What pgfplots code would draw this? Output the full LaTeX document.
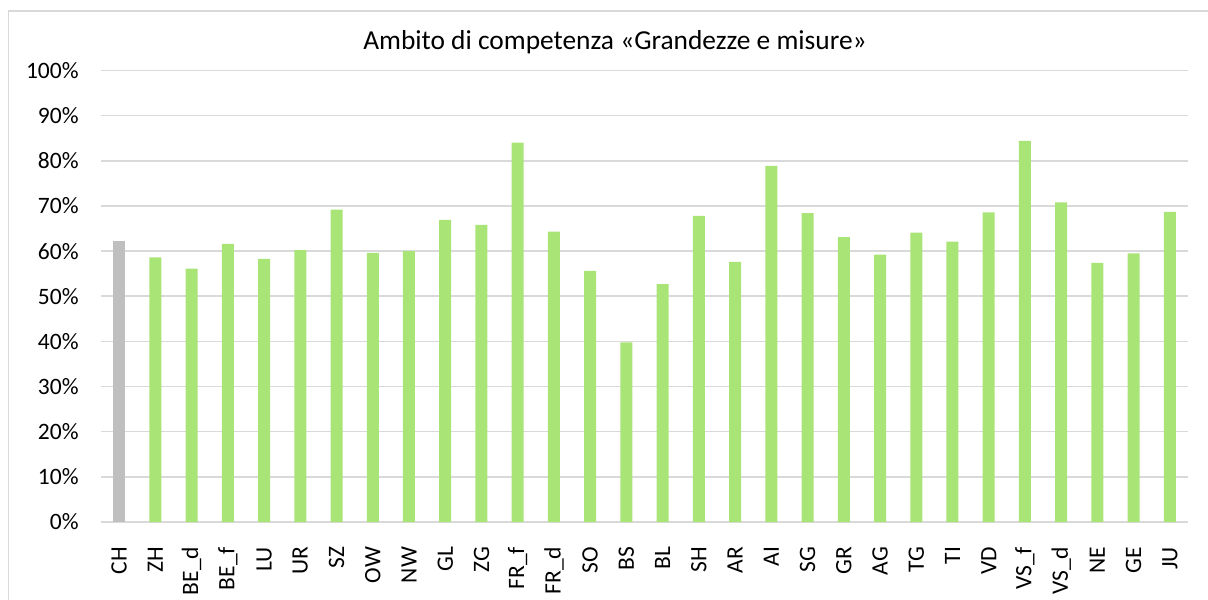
\documentclass[border=0pt]{standalone}
\usepackage{fontspec}
\setmainfont{Carlito}
\usepackage{pgfplots}
\pgfplotsset{compat=1.18}
\definecolor{barg}{HTML}{A9E476}
\definecolor{barc}{HTML}{BFBFBF}
\definecolor{gridc}{HTML}{D9D9D9}
\begin{document}
\begin{tikzpicture}[x=0.5pt,y=0.5pt]
\useasboundingbox (0,0) rectangle (1208,599);
\draw[gridc, line width=0.75pt] (8.5,-5) -- (8.5,588) -- (1215,588);
\node[font=\fontsize{13.7}{16}\selectfont] at (615,557) {Ambito di competenza «Grandezze e misure»};
\begin{axis}[
  at={(50.5pt,38.5pt)}, anchor=south west,
  scale only axis, width=543.5pt, height=225.75pt,
  xmin=-0.5, xmax=29.5, ymin=0, ymax=100,
  ybar, bar width=6pt, bar shift=0pt,
  axis x line*=bottom, axis y line*=left,
  x axis line style={gridc, line width=0.75pt, -},
  y axis line style={draw=none},
  ymajorgrids, grid style={gridc, line width=0.75pt},
  xtick={0,...,29},
  xticklabels={CH,ZH,BE\_d,BE\_f,LU,UR,SZ,OW,NW,GL,ZG,FR\_f,FR\_d,SO,BS,BL,SH,AR,AI,SG,GR,AG,TG,TI,VD,VS\_f,VS\_d,NE,GE,JU},
  ytick={0,10,...,100},
  yticklabels={0\%,10\%,20\%,30\%,40\%,50\%,60\%,70\%,80\%,90\%,100\%},
  tick style={draw=none},
  ticklabel style={font=\fontsize{11.75}{14}\selectfont},
  yticklabel style={inner sep=0pt, xshift=-11pt},
  xticklabel style={inner sep=0pt, yshift=-8pt, rotate=90, anchor=east},
]
\addplot[fill=barc, draw=none] coordinates {(0,62.3)};
\addplot[fill=barg, draw=none] coordinates {
(1,58.6) (2,56.1) (3,61.6) (4,58.3) (5,60.2) (6,69.2) (7,59.6) (8,60.0) (9,66.9) (10,65.8)
(11,84.0) (12,64.3) (13,55.6) (14,39.8) (15,52.7) (16,67.8) (17,57.6) (18,78.9) (19,68.4) (20,63.1)
(21,59.2) (22,64.1) (23,62.1) (24,68.6) (25,84.4) (26,70.8) (27,57.4) (28,59.5) (29,68.7)};
\end{axis}
\end{tikzpicture}
\end{document}
